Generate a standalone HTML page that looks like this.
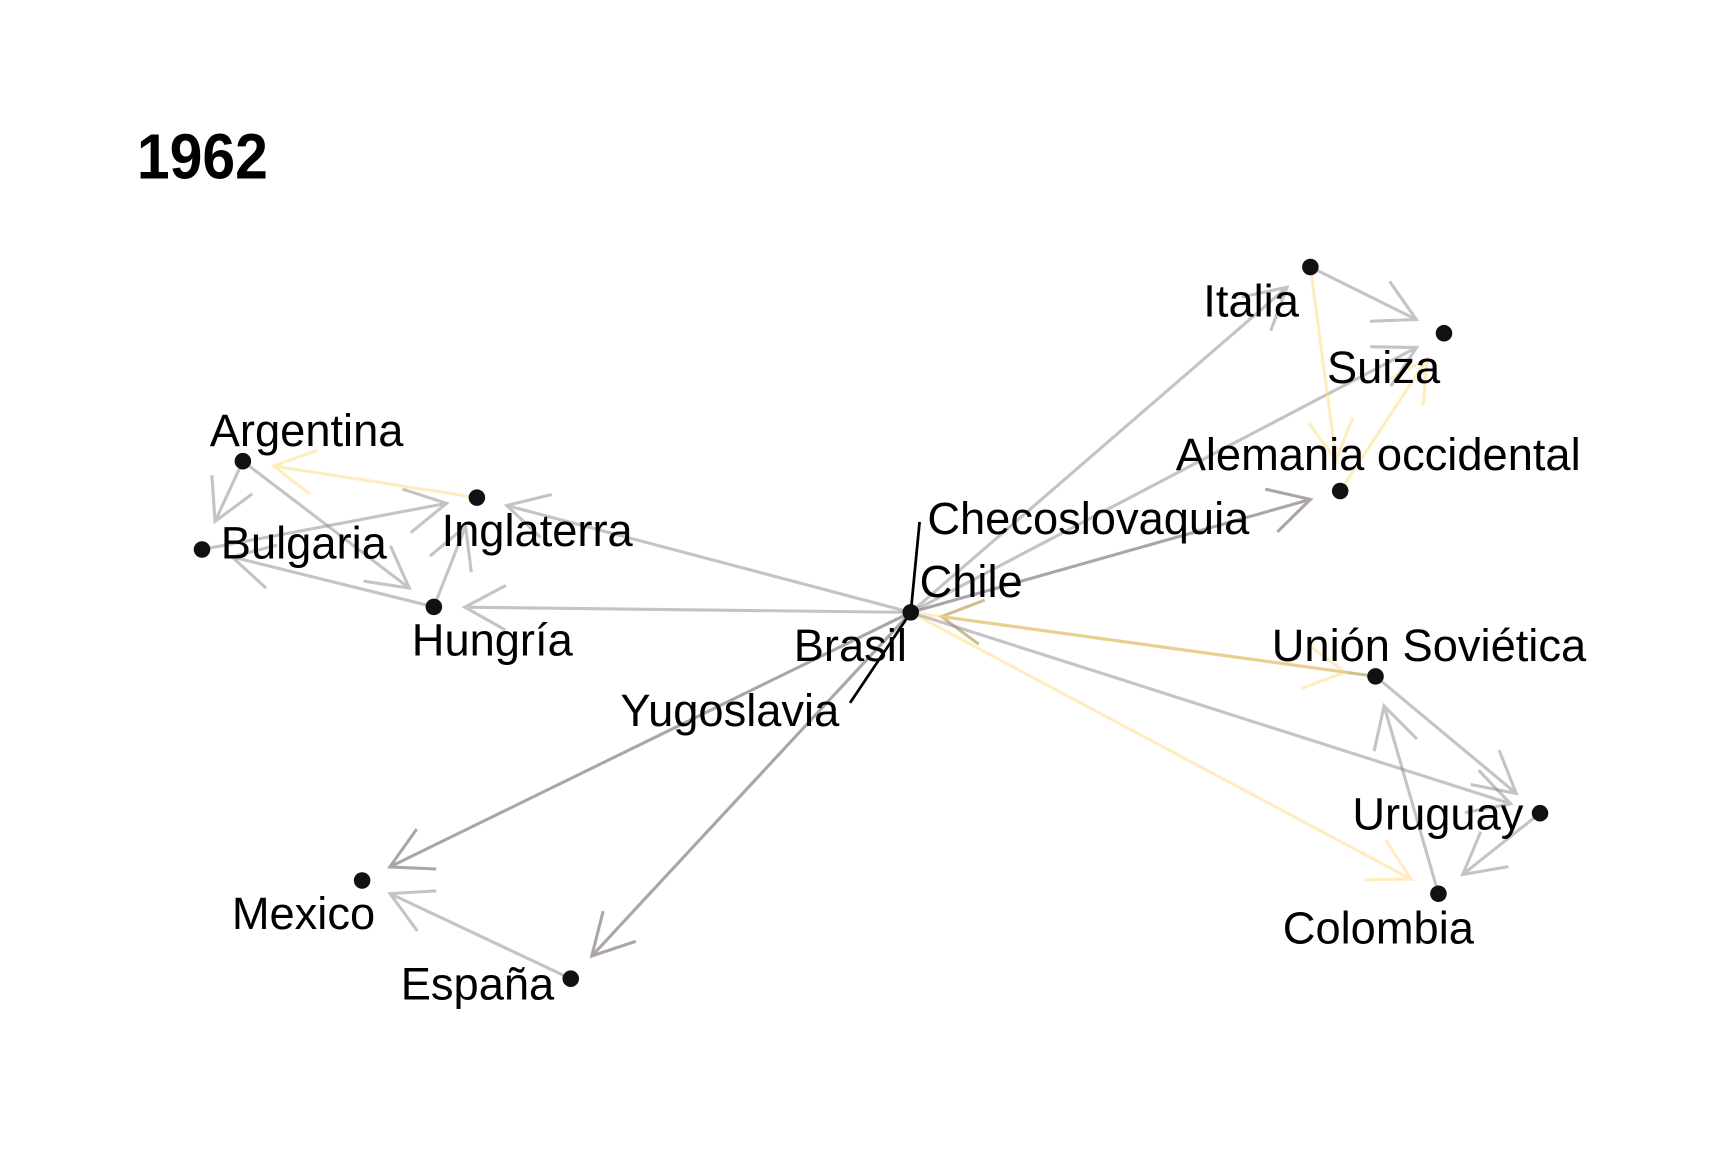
<!DOCTYPE html>
<html><head><meta charset="utf-8"><style>
html,body{margin:0;padding:0;background:#fff;}
svg{display:block;}
text{font-family:"Liberation Sans",sans-serif;}
</style></head><body>
<svg id="chart" width="1731" height="1153" viewBox="0 0 1568 1045" preserveAspectRatio="none" xmlns="http://www.w3.org/2000/svg">
<rect width="1568" height="1045" fill="#fff"/>
<text x="124" y="162" font-size="58" font-weight="bold" transform="translate(124 0) scale(0.92 1) translate(-124 0)">1962</text>
<g id="edges"></g>
<g id="leaders"></g>
<g id="nodes"></g>
<g id="labels"></g>
</svg>
<script>
const nodeNames=["Centro","Italia","Suiza","Alemania occidental","Argentina","Inglaterra","Bulgaria","Hungría","Unión Soviética","Uruguay","Colombia","Mexico","España"];
const nodeX=[825,1187,1308,1214,220,432,183,393,1246,1395,1303,328,517];
const nodeY=[555,242,302,445,418,451,498,550,613,737,810,798,887];
const edgeFrom=[0,0,0,0,0,0,0,8,0,0,9,8,10,1,1,3,5,4,4,6,7,7,12,0];
const edgeTo  =[1,2,3,5,7,11,12,0,10,9,10,9,8,2,3,2,4,6,7,5,6,5,11,8];
const edgeKind=["g","g","d","g","g","d","d","t","y","g","g","g","g","g","y","y","y","g","g","g","g","g","g","y"];
const labelText=["Italia","Suiza","Alemania occidental","Argentina","Inglaterra","Bulgaria","Hungría","Checoslovaquia","Chile","Brasil","Yugoslavia","Unión Soviética","Uruguay","Colombia","Mexico","España"];
const labelX=[1090,1202,1065,190,400,200,373,840,833,719,562,1152,1225,1162,210,363];
const labelY=[287,347,426,404,495,506,594,484,541,599,658,599,752,855,842,906];

const NS="http://www.w3.org/2000/svg";
const colors={g:"rgba(140,135,140,0.5)",d:"rgba(120,110,115,0.62)",y:"rgba(255,222,140,0.55)",t:"rgba(185,155,85,0.65)"};
const eg=document.getElementById("edges");
for(let i=0;i<edgeFrom.length;i++){
  const a=edgeFrom[i],b=edgeTo[i];
  const x1=nodeX[a],y1=nodeY[a],x2=nodeX[b],y2=nodeY[b];
  const dx=x2-x1,dy=y2-y1,L=Math.hypot(dx,dy),ux=dx/L,uy=dy/L;
  const ex=x2-ux*28,ey=y2-uy*28;
  const col=colors[edgeKind[i]];
  const g=document.createElementNS(NS,"g");
  
  
  const ln=document.createElementNS(NS,"path");
  const h=42,ang=0.5;
  const c=Math.cos(ang),s=Math.sin(ang);
  const p1x=ex-h*(ux*c-uy*s),p1y=ey-h*(uy*c+ux*s);
  const p2x=ex-h*(ux*c+uy*s),p2y=ey-h*(uy*c-ux*s);
  ln.setAttribute("d",`M${x1},${y1}L${ex},${ey}M${p1x},${p1y}L${ex},${ey}L${p2x},${p2y}`);
  ln.setAttribute("stroke",col);ln.setAttribute("stroke-width","2.8");ln.setAttribute("fill","none");
  g.appendChild(ln);eg.appendChild(g);
}
const lg=document.getElementById("leaders");
[[825,555,833,473],[825,555,770,637]].forEach((p,i)=>{
  const l=document.createElementNS(NS,"line");
  
  
  l.setAttribute("x1",p[0]);l.setAttribute("y1",p[1]);l.setAttribute("x2",p[2]);l.setAttribute("y2",p[3]);
  l.setAttribute("stroke","#000");l.setAttribute("stroke-width","2.5");
  lg.appendChild(l);
});
const ng=document.getElementById("nodes");
for(let i=0;i<nodeNames.length;i++){
  const c=document.createElementNS(NS,"circle");
  
  
  c.setAttribute("cx",nodeX[i]);c.setAttribute("cy",nodeY[i]);c.setAttribute("r","7.5");c.setAttribute("fill","#111");
  ng.appendChild(c);
}
const tg=document.getElementById("labels");
for(let i=0;i<labelText.length;i++){
  const t=document.createElementNS(NS,"text");
  
  
  t.setAttribute("x",labelX[i]);t.setAttribute("y",labelY[i]);t.setAttribute("font-size","41");t.setAttribute("fill","#000");
  t.textContent=labelText[i];
  tg.appendChild(t);
}
</script>
</body></html>
